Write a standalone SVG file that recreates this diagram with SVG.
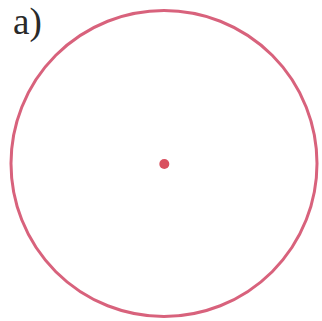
<svg xmlns="http://www.w3.org/2000/svg" width="322" height="321" viewBox="0 0 322 321">
<style>
.lbl{font-family:"Liberation Serif","Times New Roman",serif;font-size:37px;fill:#2a2a2a}
.ring{fill:none;stroke:#d8627c;stroke-width:3}
.dot{fill:#d9505f}
</style>
<rect width="322" height="321" fill="#ffffff"/>
<g id="label"><text class="lbl" x="13" y="34">a)</text></g>
<g id="circle"><circle class="ring" cx="164" cy="163.5" r="153"/></g>
<g id="center"><circle class="dot" cx="164.3" cy="164" r="5"/></g>
<g id="connectors"></g>
</svg>
